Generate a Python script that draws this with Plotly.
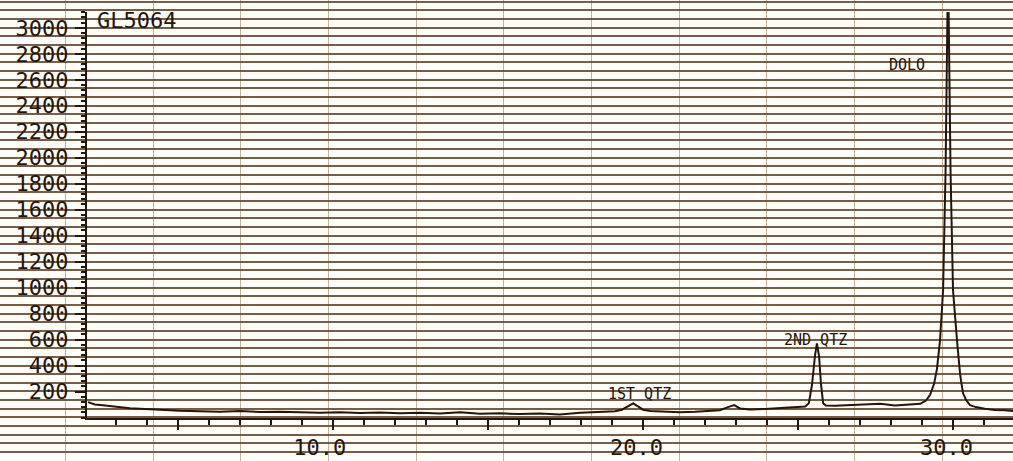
import plotly.graph_objects as go

# ---- data ----
two_theta = [2.10, 2.32, 2.65, 2.97, 3.45, 3.94, 4.42, 5.06, 5.71, 6.35, 7.00, 7.65,
             8.29, 8.94, 9.58, 10.23, 10.87, 11.52, 12.16, 12.81, 13.45, 14.10, 14.74,
             15.39, 16.03, 16.68, 17.32, 17.97, 18.61, 19.10, 19.32, 19.52, 19.68, 19.84,
             20.00, 20.23, 20.71, 21.19, 21.68, 22.16, 22.48, 22.74, 22.94, 23.13, 23.45,
             23.94, 24.42, 24.90, 25.23, 25.35, 25.45, 25.55, 25.61, 25.68, 25.74, 25.81,
             25.90, 26.19, 26.68, 27.16, 27.65, 28.13, 28.61, 28.94, 29.13, 29.26, 29.39,
             29.48, 29.58, 29.68, 29.76, 29.84, 29.92, 30.00, 30.13, 30.23, 30.32, 30.42,
             30.55, 30.74, 31.03, 31.35, 31.68, 31.94]
counts = [118, 100, 92, 82, 72, 66, 58, 52, 48, 44, 50, 42,
          44, 38, 36, 40, 34, 38, 32, 36, 30, 40, 28,
          32, 26, 30, 24, 36, 40, 48, 60, 90, 108, 85,
          60, 50, 46, 40, 44, 48, 56, 80, 95, 70, 62,
          66, 72, 76, 85, 110, 250, 480, 570, 470, 260, 110,
          92, 90, 94, 96, 105, 92, 98, 105, 130, 175, 260,
          370, 590, 980, 1900, 3500, 1900, 980, 590, 330, 190, 135,
          95, 80, 68, 58, 55, 50]

y_tick_vals = [200, 400, 600, 800, 1000, 1200, 1400, 1600, 1800, 2000, 2200, 2400, 2600, 2800, 3000]
y_tick_text = ["200", "400", "600", "800", "1000", "1200", "1400", "1600", "1800",
               "2000", "2200", "2400", "2600", "2800", "3000"]
x_tick_vals = [5, 10, 15, 20, 25, 30]
x_tick_text = ["", "10.0\u00a0\u00a0", "", "20.0\u00a0", "", "30.0\u00a0"]

peak_labels = ["1ST QTZ", "2ND QTZ", "DOLO"]
peak_label_x = [19.9, 25.58, 28.5]
peak_label_y = [181, 597, 2714]
sample_name = "GL5064"

# ---- styling ----
W, H = 1013, 461
INK = "#24160d"
PAPER_LINE = "rgba(95,65,40,0.85)"
PAPER_VLINE = "rgba(120,90,60,0.45)"
FONT = "DejaVu Sans Mono"

fig = go.Figure()

# chart-paper grid (full-figure subplot, pixel units)
fig.add_trace(go.Scatter(x=[], y=[], xaxis="x", yaxis="y", showlegend=False, hoverinfo="skip"))

# recorded trace
fig.add_trace(go.Scatter(
    x=two_theta, y=counts, xaxis="x2", yaxis="y2", mode="lines",
    line=dict(color=INK, width=2), showlegend=False, hoverinfo="skip"))

for txt, px, py in zip(peak_labels, peak_label_x, peak_label_y):
    fig.add_annotation(x=px, y=py, xref="x2", yref="y2", text=txt, showarrow=False,
                       font=dict(family=FONT, size=15, color=INK),
                       xanchor="center", yanchor="middle")

fig.add_annotation(x=95 / W, y=1 - 20 / H, xref="paper", yref="paper", text=sample_name,
                   showarrow=False, font=dict(family=FONT, size=22, color=INK),
                   xanchor="left", yanchor="middle")

fig.update_layout(
    width=W, height=H,
    margin=dict(l=0, r=0, t=0, b=0),
    paper_bgcolor="#fffdf7",
    plot_bgcolor="rgba(0,0,0,0)",
    showlegend=False,
    xaxis=dict(domain=[0, 1], range=[0, W], showgrid=True, tick0=153, dtick=87.7,
               gridcolor=PAPER_VLINE, gridwidth=1, showticklabels=False, ticks="",
               zeroline=False, showline=False, fixedrange=True),
    yaxis=dict(domain=[0, 1], range=[H, 0], showgrid=True, tick0=105.7, dtick=8.66,
               gridcolor=PAPER_LINE, gridwidth=2, showticklabels=False, ticks="",
               zeroline=False, showline=False, fixedrange=True),
    xaxis2=dict(domain=[87 / W, 1], range=[2.065, 31.935], anchor="y2",
                showgrid=False, zeroline=False,
                showline=True, linecolor=INK, linewidth=2,
                tickmode="array", tickvals=x_tick_vals, ticktext=x_tick_text,
                ticks="outside", ticklen=10, tickwidth=2, tickcolor=INK,
                ticklabelstandoff=-1,
                tickfont=dict(family=FONT, size=22, color=INK),
                minor=dict(tickmode="linear", tick0=0, dtick=1, ticks="outside",
                           ticklen=5, tickwidth=1.5, tickcolor=INK, showgrid=False)),
    yaxis2=dict(domain=[(H - 417.5) / H, (H - 12) / H], range=[0, 3122], anchor="x2",
                showgrid=False, zeroline=False,
                showline=True, linecolor=INK, linewidth=2,
                tickmode="array", tickvals=y_tick_vals, ticktext=y_tick_text,
                ticks="outside", ticklen=10, tickwidth=2, tickcolor=INK,
                ticklabelstandoff=2,
                tickfont=dict(family=FONT, size=22, color=INK),
                minor=dict(tickmode="linear", tick0=0, dtick=40, ticks="outside",
                           ticklen=4, tickwidth=1.5, tickcolor=INK, showgrid=False)),
)

fig.write_html("out.html", config={"displayModeBar": False},
               post_script="document.body.style.margin='0';document.body.style.overflow='hidden';")
